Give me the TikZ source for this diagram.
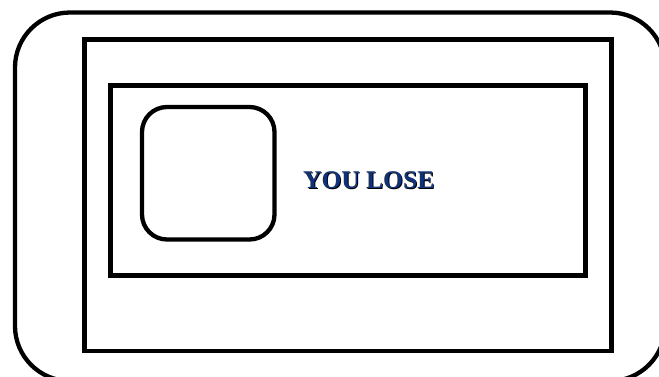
\documentclass[tikz,border=0pt]{standalone}
\usepackage{fontspec}
\setmainfont{Liberation Serif}
\usepackage{xcolor}
\usepackage{tikz}
\definecolor{losenavy}{RGB}{18,50,120}

\begin{document}
\begin{tikzpicture}[x=1pt, y=-1pt, frame/.style={line width=4.3pt, line join=miter},
    losetext/.style={anchor=base west, inner sep=0pt, font=\fontsize{25.5}{30}\selectfont\bfseries}]
    \useasboundingbox (0,0) rectangle (659,376);
    \clip (0,0) rectangle (659,376);
    \draw[frame, rounded corners=55pt] (15,12.5) rectangle (665,381);
    \draw[frame] (84.5,39.5) rectangle (611.5,351);
    \draw[frame] (110.5,85.5) rectangle (585.5,275.5);
    \draw[frame, rounded corners=25pt] (142,107) rectangle (274.5,239.5);

    \node[losetext, black] (loseshadow) at (304,189) {YOU LOSE};
    \node[losetext, losenavy] (lose) at (303,188) {YOU LOSE};
\end{tikzpicture}
\end{document}
